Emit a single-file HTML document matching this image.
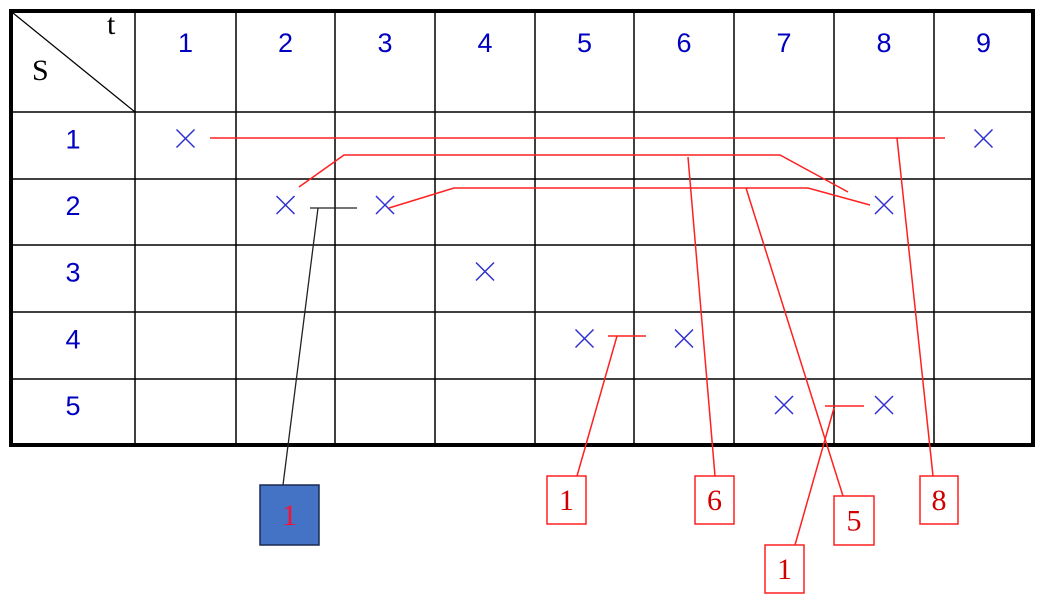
<!DOCTYPE html>
<html><head><meta charset="utf-8"><style>
html,body{margin:0;padding:0;background:#fff;width:1045px;height:600px;overflow:hidden}
svg text{font-family:"Liberation Sans",sans-serif}
svg text.serif{font-family:"Liberation Serif",serif}
</style></head><body>
<svg id="chart" width="1045" height="600" xmlns="http://www.w3.org/2000/svg">
<g id="grid"></g><g id="links"></g><g id="marks"></g><g id="boxes"></g>
</svg>
<script>
const colLines=[11,135,236,335,435,535,634,734,834,934,1033];
const rowLines=[11,112,179,245,312,379,445];
const colLabels=["1","2","3","4","5","6","7","8","9"];
const rowLabels=["1","2","3","4","5"];
// crosses: [t, s]
const crossT=[1,2,3,4,5,6,7,8,8,9];
const crossS=[1,2,2,3,4,4,5,5,2,1];
const NS="http://www.w3.org/2000/svg";
function mk(tag,attrs,parent){const e=document.createElementNS(NS,tag);for(const k in attrs)e.setAttribute(k,attrs[k]);parent.appendChild(e);return e;}
const grid=document.getElementById('grid');
function cx(t){return (colLines[t]+colLines[t+1])/2;}
function cy(s){return (rowLines[s]+rowLines[s+1])/2-7;}
for(let i=1;i<colLines.length-1;i++){const l=mk('line',{x1:colLines[i],y1:11,x2:colLines[i],y2:445,stroke:'#000','stroke-width':1.5},grid);

}
for(let i=1;i<rowLines.length-1;i++){const l=mk('line',{x1:11,y1:rowLines[i],x2:1033,y2:rowLines[i],stroke:'#000','stroke-width':1.5},grid);

}
const border=mk('rect',{x:11,y:11,width:1022,height:434,fill:'none',stroke:'#000','stroke-width':4},grid);


const diag=mk('line',{x1:13,y1:13,x2:135,y2:112,stroke:'#000','stroke-width':1.2},grid);


let tt=mk('text',{x:107,y:34,'class':'serif','font-size':30,fill:'#000'},grid);tt.textContent='t';


let st=mk('text',{x:32,y:80,'class':'serif','font-size':30,fill:'#000'},grid);st.textContent='S';


colLabels.forEach((c,i)=>{const t=mk('text',{x:cx(i+1),y:52,'text-anchor':'middle','font-size':27,fill:'#0000c0'},grid);t.textContent=c;

});
rowLabels.forEach((r,i)=>{const t=mk('text',{x:73,y:(rowLines[i+1]+rowLines[i+2])/2+3,'text-anchor':'middle','font-size':27,fill:'#0000c0'},grid);t.textContent=r;

});
const marks=document.getElementById('marks');
crossT.forEach((t,i)=>{const x=cx(t),y=cy(crossS[i]);const g=mk('g',{stroke:'#3030d0','stroke-width':1.5},marks);


mk('line',{x1:x-9,y1:y-9,x2:x+9,y2:y+9},g);mk('line',{x1:x-9,y1:y+9,x2:x+9,y2:y-9},g);});
const links=document.getElementById('links');
const red='#ff2020';
function pl(pts,color,name,w){const p=mk('polyline',{points:pts,fill:'none',stroke:color,'stroke-width':w||1.5},links);

}
pl('210,138 945,138',red,'link-1-9');
pl('897,138 933,476',red,'leader-8');
pl('299,187 344,155 780,155 848,192',red,'link-2-8');
pl('688,157 715,476',red,'leader-6');
pl('389,208 454,188 808,188 870,205',red,'link-3-8');
pl('746,188 843,496',red,'leader-5');
pl('608,336 646,336',red,'bar-row4');
pl('617,336 577,476',red,'leader-1-row4');
pl('825,406 864,406',red,'bar-row5');
pl('834,408 795,545',red,'leader-1-row5');
pl('310,208 357,208','#222','bar-row2','1.3');
pl('318,208 283,485','#222','leader-1-black','1.3');
const boxes=document.getElementById('boxes');
function box(x,y,w,h,label,fill,stroke,name){const g=mk('g',{},boxes);


mk('rect',{x:x,y:y,width:w,height:h,fill:fill,stroke:stroke,'stroke-width':1.5},g);
const t=mk('text',{x:x+w/2,y:y+h/2+10,'text-anchor':'middle','class':'serif','font-size':30,fill:fill==='#fff'?'#d00000':'#ff1030'},g);t.textContent=label;}
box(547,476,39,48,'1','#fff',red,'label-box-1');
box(695,476,39,48,'6','#fff',red,'label-box-6');
box(834,496,40,49,'5','#fff',red,'label-box-5');
box(920,476,38,48,'8','#fff',red,'label-box-8');
box(765,545,39,48,'1','#fff',red,'label-box-1b');
box(260,485,59,60,'1','#4472c4','#1a2a50','label-box-blue');
</script>
</body></html>
